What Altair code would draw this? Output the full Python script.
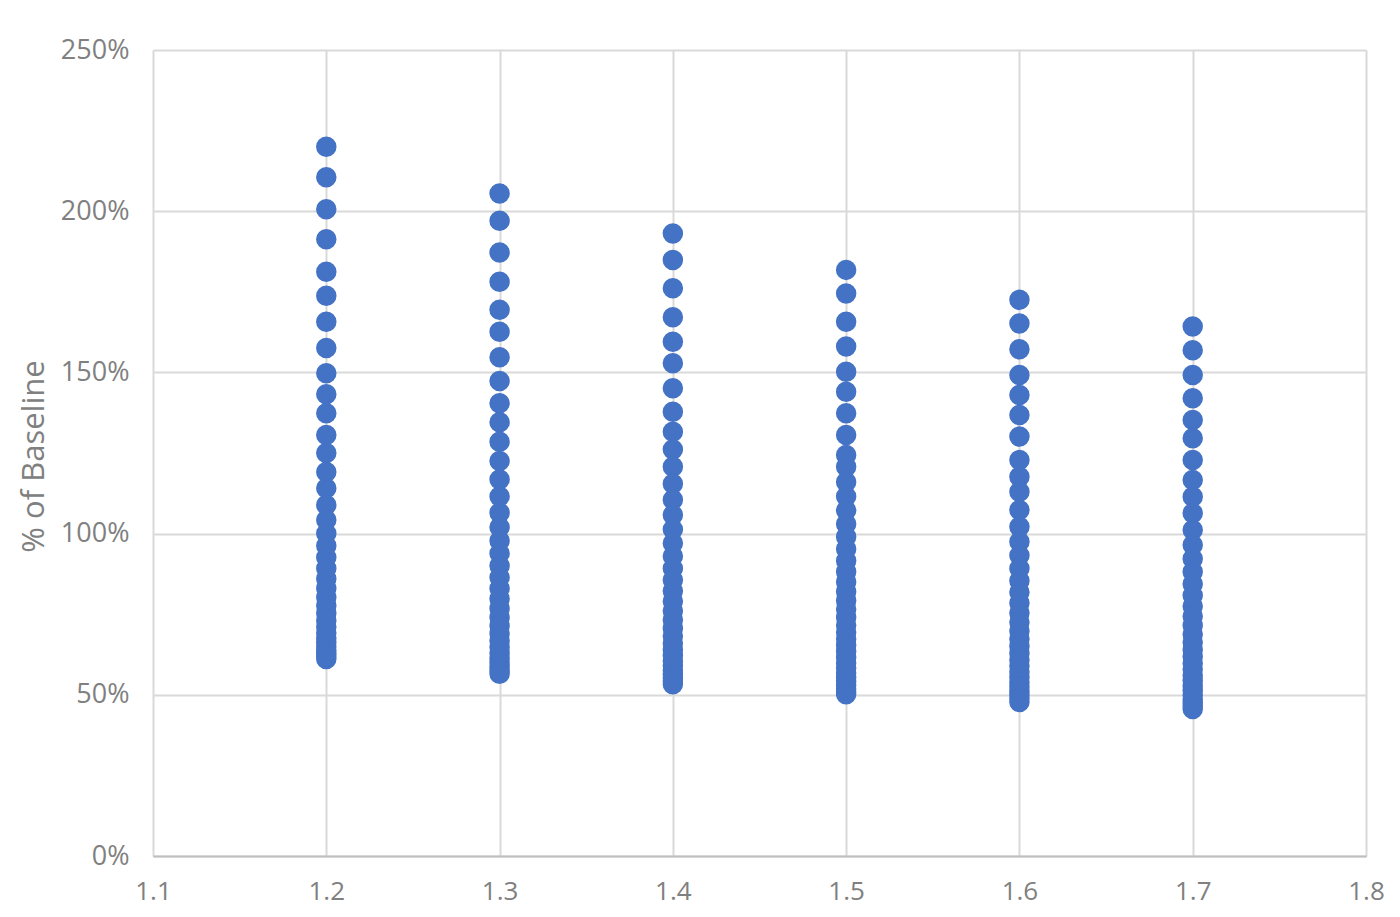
import altair as alt
import pandas as pd

x_values = [1.2, 1.3, 1.4, 1.5, 1.6, 1.7]

col_12 = [220.0, 210.5, 200.6, 191.3, 181.2, 173.8, 165.7, 157.6, 149.7, 143.2, 137.3,
          130.6, 125.0, 119.1, 114.1, 108.9, 104.2, 100.0, 96.2, 92.6, 89.2, 86.0, 83.0,
          80.2, 77.6, 75.2, 73.0, 71.0, 69.2, 67.6, 66.2, 64.9, 63.8, 62.8, 61.9, 61.1]
col_13 = [205.5, 197.0, 187.2, 178.1, 169.4, 162.6, 154.7, 147.3, 140.4, 134.5, 128.5,
          122.5, 116.8, 111.5, 106.5, 102.0, 97.8, 93.8, 90.0, 86.4, 83.0, 79.8, 76.8,
          74.0, 71.4, 69.0, 66.8, 64.8, 63.0, 61.4, 60.0, 58.7, 57.5, 56.5]
col_14 = [193.1, 184.9, 176.1, 167.1, 159.5, 152.8, 145.1, 137.8, 131.6, 126.1, 120.7,
          115.5, 110.5, 105.8, 101.3, 97.0, 93.0, 89.2, 85.6, 82.2, 79.0, 76.0, 73.2,
          70.6, 68.2, 66.0, 64.0, 62.2, 60.5, 59.0, 57.6, 56.3, 55.2, 54.2, 53.3]
col_15 = [181.8, 174.5, 165.7, 158.0, 150.2, 144.0, 137.3, 130.6, 124.4, 120.7, 116.0,
          111.5, 107.2, 103.0, 99.0, 95.2, 91.6, 88.2, 85.0, 82.0, 79.2, 76.5, 74.0,
          71.6, 69.4, 67.3, 65.3, 63.4, 61.6, 59.9, 58.3, 56.8, 55.4, 54.1, 52.9, 51.8,
          50.9, 50.2]
col_16 = [172.5, 165.2, 157.2, 149.2, 143.0, 136.8, 130.1, 122.8, 117.6, 113.0, 107.3,
          102.1, 97.5, 93.2, 89.2, 85.4, 81.8, 78.5, 75.4, 72.5, 69.8, 67.3, 65.0, 62.8,
          60.8, 58.9, 57.1, 55.4, 53.9, 52.5, 51.2, 50.0, 48.9, 47.8]
col_17 = [164.2, 156.9, 149.2, 142.0, 135.2, 129.6, 122.8, 116.6, 111.4, 106.3, 101.1,
          96.5, 92.2, 88.2, 84.4, 80.8, 77.5, 74.4, 71.5, 68.8, 66.3, 64.0, 61.8, 59.8,
          57.9, 56.1, 54.4, 52.8, 51.3, 49.9, 48.6, 47.5, 46.5, 45.6]

columns = [col_12, col_13, col_14, col_15, col_16, col_17]

x_ticks = [1.1, 1.2, 1.3, 1.4, 1.5, 1.6, 1.7, 1.8]
y_ticks = [0, 0.5, 1.0, 1.5, 2.0, 2.5]

rows = []
for xv, vals in zip(x_values, columns):
    for v in vals:
        rows.append({"x": xv, "y": v / 100.0})
df = pd.DataFrame(rows)

label_color = "#808080"

chart = alt.Chart(df).mark_circle(size=420, color="#4472C4", opacity=1).encode(
    x=alt.X("x:Q",
            scale=alt.Scale(domain=[1.1, 1.8], nice=False, zero=False),
            axis=alt.Axis(values=x_ticks, format=".1f", title=None,
                          labelFontSize=26, labelColor=label_color, labelFont="Open Sans",
                          labelPadding=22, ticks=False, domain=True, domainColor="#bfbfbf",
                          domainWidth=2, grid=True, gridColor="#d9d9d9", gridWidth=2,
                          labelFlush=False)),
    y=alt.Y("y:Q",
            scale=alt.Scale(domain=[0, 2.5], nice=False),
            axis=alt.Axis(values=y_ticks, format=".0%", title="% of Baseline",
                          labelFontSize=27, labelColor=label_color, labelFont="Open Sans",
                          labelPadding=24, ticks=False, domain=False,
                          grid=True, gridColor="#d9d9d9", gridWidth=2,
                          titleFontSize=31, titleFont="Open Sans", titleColor=label_color,
                          titleFontWeight="normal", titleX=-119, titleY=406,
                          titleBaseline="middle", titleAngle=270)),
).properties(
    width=1213,
    height=806,
    autosize=alt.AutoSizeParams(type="none"),
    padding={"left": 145, "top": 42, "right": 20, "bottom": 60},
).configure_view(stroke=None).configure(background="white")

chart.save("out.html", embed_options={"renderer": "svg", "actions": False})
